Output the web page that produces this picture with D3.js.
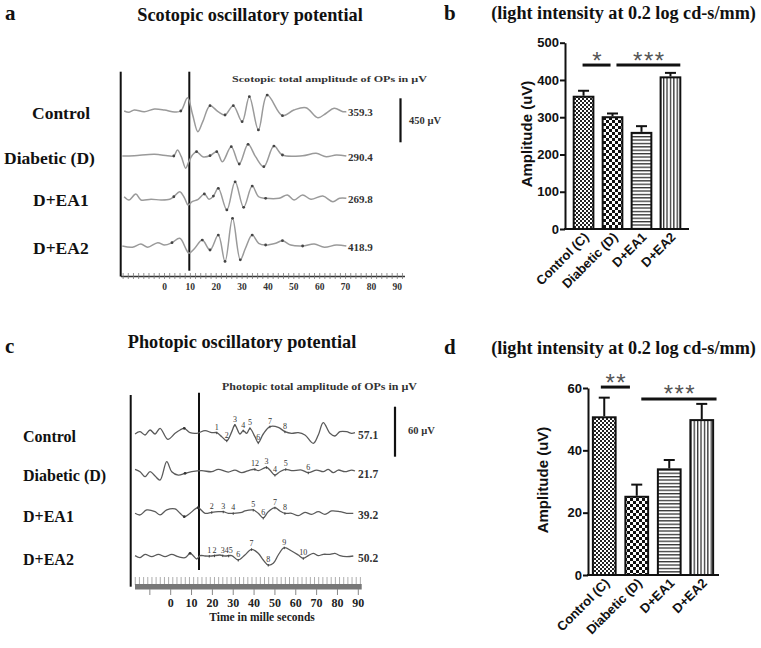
<!DOCTYPE html>
<html><head><meta charset="utf-8">
<script src="https://cdn.jsdelivr.net/npm/d3@7"></script>
<style>body{margin:0;background:#fff}</style>
</head><body><script>
// ---------------- DATA ----------------
const groups = ["Control", "Diabetic (D)", "D+EA1", "D+EA2"];
const scoTotals = ["359.3", "290.4", "269.8", "418.9"];
const phoTotals = ["57.1", "21.7", "39.2", "50.2"];
const timeTicks = [0, 10, 20, 30, 40, 50, 60, 70, 80, 90];

// scotopic OP traces: [time ms, amplitude µV]
const scoControlWave = [[-15.6,0],[-13.7,-13],[-11.7,10],[-7.8,-7],[-3.9,20],[0,10],[3.9,-10],[6.3,0],[8.9,136],[10.9,-41],[12.9,-211],[14.8,-109],[17.6,54],[20.7,-7],[23.4,-41],[26.6,54],[30.0,-109],[32.8,146],[36.3,-194],[39.7,163],[45.6,-48],[50,10],[54.7,34],[59.3,-68],[62.5,-23],[65.6,27],[69,-7],[70.3,-7]];
const scoDiabeticWave = [[-16.3,0],[-11.7,3],[-3.9,17],[1.2,3],[3.6,0],[5.0,61],[6.5,-7],[8.2,-125],[9.4,-58],[10.8,10],[12.4,44],[14.8,-7],[17.6,3],[20.2,44],[22.4,-58],[25.8,95],[28.9,-82],[32.3,119],[35.2,-7],[38.4,-109],[42.3,102],[45.6,10],[53.4,3],[58.6,27],[62.5,-7],[66.4,10],[70.3,0]];
const scoEA1Wave = [[-15.6,16],[-13.7,-17],[-11.1,44],[-9.1,-17],[-5.2,-10],[-1.3,-17],[2.0,-10],[3.6,16],[5.9,67],[7.8,0],[9.1,-68],[10.7,-35],[13.0,-10],[15.4,44],[17.2,-10],[18.9,23],[20.8,102],[24.1,-119],[27.3,169],[30.6,-92],[33.9,125],[36.4,16],[39.1,0],[44.3,0],[47.5,34],[50.1,-17],[53.4,34],[56.6,-10],[61.2,23],[65.1,-35],[67.7,0],[70.3,0]];
const scoEA2Wave = [[-16.3,0],[-12.4,-13],[-9.1,20],[-6.5,-13],[-2.6,34],[0,10],[2.9,34],[5.9,79],[8.5,-41],[9.4,-74],[11.7,-23],[14.6,61],[17.6,-41],[20.8,112],[23.4,-158],[26.3,283],[29.3,-141],[31.3,-23],[33.9,112],[36.4,28],[39.1,10],[43.0,28],[45.6,54],[48.8,10],[53.4,0],[57.9,20],[61.8,-13],[66.4,10],[70.3,0]];
const scoControlMarks = [6.3,17.6,23.4,26.6,30.0,32.8,36.3,39.7,45.6];
const scoDiabeticMarks = [3.6,12.4,17.6,20.2,25.8,28.9,32.3,38.4,42.3,45.6];
const scoEA1Marks = [3.6,15.4,18.9,20.8,24.1,27.3,30.6,33.9,39.1];
const scoEA2Marks = [2.9,14.6,17.6,20.8,23.4,26.3,29.3,33.9,39.1,45.6,53.4];

// photopic OP traces: [time ms, amplitude µV]
const phoControlWave = [[-17.1,-1.2],[-14.7,1.6],[-12.3,-2.4],[-9.9,3.6],[-7.5,-1.2],[-5.1,5.6],[-1.4,-7.6],[2.1,-0.4],[4.5,3.6],[6.5,5.6],[9.3,0.4],[12.5,-0.4],[16.5,2.8],[19.7,0.4],[22.1,0.4],[24.5,-4.4],[26.9,-9.2],[29.3,1.6],[30.8,9.6],[33.2,-1.2],[34.8,2.8],[36.5,-0.4],[38.0,5.6],[40.4,-4.4],[42.0,-11.6],[44.4,-1.2],[47.6,7.6],[51.6,6.8],[54.8,1.6],[58.0,-0.4],[61.2,0.4],[64.4,-2.4],[68.4,-12.4],[70.8,-2.4],[73.2,12.4],[76.4,-0.4],[78.8,-3.6],[81.2,1.6],[84.4,1.6],[86.8,-0.4],[88.4,0.4]];
const phoDiabeticWave = [[-17.1,2.9],[-14.7,0],[-12.3,-6],[-9.9,0],[-7.5,-5.2],[-5.1,-10],[-1.9,12],[0.5,0],[3.6,-4],[6.9,-1.9],[10.1,0],[14.9,1.2],[19.7,0],[22.8,2.9],[27.6,-0.4],[30.8,2],[34.1,-1.2],[38.0,2],[40.4,2.9],[42.0,1.2],[46.0,5.3],[47.6,2],[50.0,-4],[52.4,0],[55.2,2.9],[58.0,1.2],[62.8,2],[66.0,-1.2],[70.0,2],[73.2,0],[75.6,2.9],[78.0,-1.2],[80.4,2],[83.6,0],[86.8,2],[88.4,0.8]];
const phoEA1Wave = [[-17.1,0],[-14.7,-2],[-11.5,4],[-7.5,1.9],[-5.1,-2],[-1.9,4],[2.1,5.2],[4.5,0],[6.5,-4],[9.3,0],[11.7,5.2],[13.2,6.7],[16.5,0],[19.7,1.2],[22.8,1.9],[25.2,1.9],[27.6,0],[30.0,0],[34.1,1.2],[35.6,2.8],[39.6,4],[42.0,0],[44.4,-5.6],[46.8,1.9],[50.0,6.7],[52.4,2.8],[54.8,0],[58.0,0],[61.2,-2.9],[64.4,1.2],[67.6,-1.2],[70.8,1.9],[74.0,-1.2],[77.2,2.8],[81.2,1.9],[84.4,0],[87.6,0]];
const phoEA2Wave = [[-17.1,0.4],[-14.7,-2],[-12.3,2],[-9.1,-0.8],[-5.9,2],[-2.7,-0.8],[0.5,2],[3.6,-0.8],[6.9,-2],[9.3,3.2],[10.8,0.4],[12.5,-3.6],[14.1,0.4],[16.5,0],[19.7,0],[23.6,1.2],[26.0,0],[29.3,0.4],[32.4,-4.8],[35.6,1.2],[38.8,8],[42.0,3.2],[44.4,-4.8],[46.8,-10.8],[49.2,-8.8],[51.6,1.2],[54.5,10],[58.0,6],[61.2,1.2],[63.6,-2.8],[66.0,0.4],[68.4,3.2],[70.8,0.4],[73.2,2],[76.4,2],[78.8,3.2],[81.2,0.4],[84.4,-0.8],[87.6,0]];
const phoControlLabels = [[22.1,"1"],[26.9,"2"],[30.8,"3"],[34.8,"4"],[38.0,"5"],[42.0,"6"],[47.6,"7"],[54.8,"8"]];
const phoDiabeticLabels = [[40.4,"12"],[46.0,"3"],[50.0,"4"],[55.2,"5"],[66.0,"6"]];
const phoEA1Labels = [[19.7,"2"],[25.2,"3"],[30.0,"4"],[39.6,"5"],[44.4,"6"],[50.0,"7"],[54.8,"8"]];
const phoEA2Labels = [[18.5,"1"],[21.0,"2"],[25.0,"3"],[27.8,"45"],[32.4,"6"],[38.8,"7"],[46.8,"8"],[54.5,"9"],[63.6,"10"]];
const phoControlDots = [6.5];
const phoDiabeticDots = [6.9];
const phoEA1Dots = [6.5, 13.2];
const phoEA2Dots = [9.3];

// bar charts
const barCategories = ["Control (C)", "Diabetic (D)", "D+EA1", "D+EA2"];
const scoMean = [355, 300, 258, 407];
const scoSEM = [16, 10, 18, 12];
const phoMean = [50.6, 25.1, 33.9, 49.7];
const phoSEM = [6.3, 3.9, 3.0, 5.2];
const scoTicks = [0, 100, 200, 300, 400, 500];
const phoTicks = [0, 20, 40, 60];
const scoSig = [[0, 1, "*", 440], [1, 3, "***", 440]];
const phoSig = [[0, 1, "**", 60.3], [1, 3, "***", 56.5]];

// ---------------- DRAW ----------------
const W = 761, H = 648;
const SERIF = "'Liberation Serif','Times New Roman',serif";
const SANS = "'Liberation Sans',Arial,sans-serif";
const svg = d3.select("body").append("svg").attr("width", W).attr("height", H);

function txt(x, y, s, size, opts = {}) {
  return svg.append("text").attr("x", x).attr("y", y).text(s)
    .attr("font-family", opts.family || SERIF).attr("font-weight", opts.weight || "bold")
    .attr("font-size", size).attr("fill", opts.fill || "#111")
    .attr("text-anchor", opts.anchor || "start");
}
function ampAt(wave, t) {
  for (let i = 0; i < wave.length - 1; i++) {
    const [t0, a0] = wave[i], [t1, a1] = wave[i + 1];
    if (t >= t0 && t <= t1) return a0 + (a1 - a0) * (t - t0) / (t1 - t0);
  }
  return 0;
}

// panel letters & titles
txt(5, 20, "a", 21);
txt(444, 20, "b", 21);
txt(5, 353, "c", 21);
txt(444, 354, "d", 21);
txt(250, 21, "Scotopic oscillatory potential", 18.3, {anchor: "middle"});
txt(242, 348, "Photopic oscillatory potential", 18.3, {anchor: "middle"});
txt(623.5, 19, "(light intensity at 0.2 log cd-s/mm)", 18.2, {anchor: "middle"});
txt(623.5, 354, "(light intensity at 0.2 log cd-s/mm)", 18.2, {anchor: "middle"});

// ---------- Panel a: scotopic traces ----------
const xSco = d3.scaleLinear().domain([0, 90]).range([164.5, 397.3]);
const aSco = d3.scaleLinear().domain([0, 450]).range([0, 44]);
const scoBase = [111, 156, 198.3, 246];
const scoWaves = [scoControlWave, scoDiabeticWave, scoEA1Wave, scoEA2Wave];
const scoMarks = [scoControlMarks, scoDiabeticMarks, scoEA1Marks, scoEA2Marks];
const curve = d3.curveCatmullRom.alpha(0.5);

svg.append("line").attr("x1", 120.7).attr("x2", 120.7).attr("y1", 71.7).attr("y2", 276.5).attr("stroke", "#111").attr("stroke-width", 2);
svg.append("line").attr("x1", 189.3).attr("x2", 189.3).attr("y1", 71.7).attr("y2", 270.7).attr("stroke", "#111").attr("stroke-width", 2);

scoWaves.forEach((w, i) => {
  const b = scoBase[i];
  const line = d3.line().x(d => xSco(d[0])).y(d => b - aSco(d[1])).curve(curve);
  svg.append("path").attr("d", line(w)).attr("fill", "none").attr("stroke", "#9a9a9a").attr("stroke-width", 1.5);
  scoMarks[i].forEach(t => {
    svg.append("circle").attr("cx", xSco(t)).attr("cy", b - aSco(ampAt(w, t))).attr("r", 1.4).attr("fill", "#444");
  });
});
const scoLabelX = [32, 4, 33, 33];
groups.forEach((g, i) => {
  txt(scoLabelX[i], scoBase[i] + 8, g, 17.5);
  txt(348, scoBase[i] + 5, scoTotals[i], 11, {fill: "#333"});
});
txt(232, 82, "Scotopic total amplitude of OPs in µV", 8.5, {fill: "#333"}).attr("textLength", 195).attr("lengthAdjust", "spacingAndGlyphs");
svg.append("line").attr("x1", 400.5).attr("x2", 400.5).attr("y1", 98.3).attr("y2", 98.3 + aSco(450)).attr("stroke", "#111").attr("stroke-width", 2.2);
txt(409, 124, "450 µV", 10.5, {fill: "#333"});

// scotopic time axis
svg.append("line").attr("x1", 121).attr("x2", 405).attr("y1", 276.5).attr("y2", 276.5).attr("stroke", "#333").attr("stroke-width", 1.3);
d3.range(-16, 93, 2).forEach(t => {
  svg.append("line").attr("x1", xSco(t)).attr("x2", xSco(t)).attr("y1", 273).attr("y2", 279).attr("stroke", "#777").attr("stroke-width", 0.8);
});
timeTicks.forEach(t => txt(xSco(t), 290, String(t), 9.5, {anchor: "middle", fill: "#333"}));

// ---------- Panel c: photopic traces ----------
const xPho = d3.scaleLinear().domain([0, 90]).range([170.7, 358.3]);
const aPho = d3.scaleLinear().domain([0, 60]).range([0, 50]);
const phoBase = [433, 471.7, 513.3, 556];
const phoWaves = [phoControlWave, phoDiabeticWave, phoEA1Wave, phoEA2Wave];
const phoLabels = [phoControlLabels, phoDiabeticLabels, phoEA1Labels, phoEA2Labels];
const phoDots = [phoControlDots, phoDiabeticDots, phoEA1Dots, phoEA2Dots];

svg.append("line").attr("x1", 130.7).attr("x2", 130.7).attr("y1", 395).attr("y2", 586.7).attr("stroke", "#111").attr("stroke-width", 2);
svg.append("line").attr("x1", 199).attr("x2", 199).attr("y1", 392.7).attr("y2", 570).attr("stroke", "#111").attr("stroke-width", 2);

phoWaves.forEach((w, i) => {
  const b = phoBase[i];
  const line = d3.line().x(d => xPho(d[0])).y(d => b - aPho(d[1])).curve(curve);
  svg.append("path").attr("d", line(w)).attr("fill", "none").attr("stroke", "#5a5a5a").attr("stroke-width", 1.3);
  phoLabels[i].forEach(([t, s]) => {
    const y = b - aPho(ampAt(w, t));
    svg.append("line").attr("x1", xPho(t)).attr("x2", xPho(t)).attr("y1", y - 1).attr("y2", y + 1.5).attr("stroke", "#444");
    txt(xPho(t), y - 3, s, 8, {anchor: "middle", weight: "normal", fill: "#333"});
  });
  phoDots[i].forEach(t => {
    svg.append("circle").attr("cx", xPho(t)).attr("cy", b - aPho(ampAt(w, t))).attr("r", 1.4).attr("fill", "#333");
  });
});
groups.forEach((g, i) => {
  txt(23, phoBase[i] + 9, g, 16);
  txt(358, phoBase[i] + 6, phoTotals[i], 11.5, {fill: "#333"});
});
txt(222, 390, "Photopic total amplitude of OPs in µV", 9.5, {fill: "#333"}).attr("textLength", 195).attr("lengthAdjust", "spacingAndGlyphs");
svg.append("line").attr("x1", 395).attr("x2", 395).attr("y1", 406.7).attr("y2", 406.7 + aPho(60)).attr("stroke", "#111").attr("stroke-width", 2.2);
txt(408, 434, "60 µV", 10.5, {fill: "#333"});

// photopic time axis
d3.range(-17, 92, 2).forEach(t => {
  svg.append("line").attr("x1", xPho(t)).attr("x2", xPho(t)).attr("y1", 577).attr("y2", 585).attr("stroke", "#999").attr("stroke-width", 0.8);
});
svg.append("rect").attr("x", 135).attr("y", 584).attr("width", 226.7).attr("height", 5.5).attr("fill", "#777");
d3.range(-10, 91, 10).forEach(t => {
  svg.append("line").attr("x1", xPho(t)).attr("x2", xPho(t)).attr("y1", 589).attr("y2", 595).attr("stroke", "#888").attr("stroke-width", 1);
});
timeTicks.forEach(t => txt(xPho(t), 607, String(t), 12, {anchor: "middle", fill: "#222"}));
txt(262, 621, "Time in mille seconds", 11.5, {anchor: "middle", fill: "#222"});

// ---------- patterns ----------
const defs = svg.append("defs");
let p = defs.append("pattern").attr("id", "pFine").attr("width", 4).attr("height", 4).attr("patternUnits", "userSpaceOnUse");
p.append("rect").attr("width", 4).attr("height", 4).attr("fill", "#fff");
p.append("rect").attr("width", 2).attr("height", 2).attr("fill", "#222");
p.append("rect").attr("x", 2).attr("y", 2).attr("width", 2).attr("height", 2).attr("fill", "#222");
p = defs.append("pattern").attr("id", "pCoarse").attr("width", 6).attr("height", 6).attr("patternUnits", "userSpaceOnUse");
p.append("rect").attr("width", 6).attr("height", 6).attr("fill", "#fff");
p.append("rect").attr("width", 3).attr("height", 3).attr("fill", "#111");
p.append("rect").attr("x", 3).attr("y", 3).attr("width", 3).attr("height", 3).attr("fill", "#111");
p = defs.append("pattern").attr("id", "pH").attr("width", 4).attr("height", 3.4).attr("patternUnits", "userSpaceOnUse");
p.append("rect").attr("width", 4).attr("height", 3.4).attr("fill", "#fff");
p.append("rect").attr("width", 4).attr("height", 1.3).attr("fill", "#333");
p = defs.append("pattern").attr("id", "pV").attr("width", 3.4).attr("height", 4).attr("patternUnits", "userSpaceOnUse");
p.append("rect").attr("width", 3.4).attr("height", 4).attr("fill", "#fff");
p.append("rect").attr("width", 1.3).attr("height", 4).attr("fill", "#333");
const fills = ["url(#pFine)", "url(#pCoarse)", "url(#pH)", "url(#pV)"];

// ---------- bar panels ----------
function barPanel(cfg) {
  const y = d3.scaleLinear().domain(cfg.domain).range([cfg.y0, cfg.y1]);
  const x = d3.scaleBand().domain(barCategories).range([cfg.xl, cfg.xr]).paddingInner(cfg.pi).paddingOuter(cfg.po);
  const bw = x.bandwidth();
  const g = svg.append("g");
  barCategories.forEach((c, i) => {
    g.append("rect").attr("x", x(c)).attr("y", y(cfg.mean[i])).attr("width", bw).attr("height", y(0) - y(cfg.mean[i]))
      .attr("fill", fills[i]).attr("stroke", "#111").attr("stroke-width", 2);
    const cx = x(c) + bw / 2, ye = y(cfg.mean[i] + cfg.sem[i]);
    g.append("line").attr("x1", cx).attr("x2", cx).attr("y1", y(cfg.mean[i]) - 1).attr("y2", ye).attr("stroke", "#111").attr("stroke-width", 2);
    g.append("line").attr("x1", cx - 5.5).attr("x2", cx + 5.5).attr("y1", ye).attr("y2", ye).attr("stroke", "#111").attr("stroke-width", 2);
    g.append("text").attr("transform", `translate(${cx + 6},${cfg.y0 + 9}) rotate(-45)`).attr("text-anchor", "end")
      .attr("font-family", SANS).attr("font-weight", "bold").attr("font-size", 13).attr("fill", "#111").text(c);
  });
  const ax = g.append("g").attr("transform", `translate(${cfg.xl},0)`).call(d3.axisLeft(y).tickValues(cfg.ticks).tickSize(5).tickSizeOuter(0));
  ax.select(".domain").attr("stroke-width", 2).attr("stroke", "#111");
  ax.selectAll(".tick line").attr("stroke-width", 2).attr("stroke", "#111");
  ax.selectAll(".tick text").attr("font-family", SANS).attr("font-weight", "bold").attr("font-size", 13).attr("fill", "#111").attr("x", -6);
  g.append("line").attr("x1", cfg.xl - 1).attr("x2", cfg.xend).attr("y1", y(0)).attr("y2", y(0)).attr("stroke", "#111").attr("stroke-width", 2);
  g.append("text").attr("transform", `translate(${cfg.labX},${cfg.labY}) rotate(-90)`).attr("text-anchor", "middle")
    .attr("font-family", SANS).attr("font-weight", "bold").attr("font-size", 15).attr("fill", "#111").text("Amplitude (uV)");
  cfg.sig.forEach(([a, b, s, v], k) => {
    const x1 = x(barCategories[a]) + bw * cfg.sigOff[k][0];
    const x2 = x(barCategories[b]) + bw * cfg.sigOff[k][1];
    g.append("line").attr("x1", x1).attr("x2", x2).attr("y1", y(v)).attr("y2", y(v)).attr("stroke", "#111").attr("stroke-width", 3);
    g.append("text").attr("x", (x1 + x2) / 2 + 1).attr("y", y(v) + 3.5).attr("text-anchor", "middle")
      .attr("font-family", SANS).attr("font-size", 24).attr("letter-spacing", 1.5).attr("fill", "#555").text(s);
  });
}
barPanel({domain: [0, 500], y0: 229, y1: 42.7, xl: 565, xr: 689, xend: 689, pi: 0.32, po: 0.3,
  mean: scoMean, sem: scoSEM, ticks: scoTicks, sig: scoSig, sigOff: [[0.45, 0.4], [0.7, 1.0]], labX: 532, labY: 134});
barPanel({domain: [0, 60], y0: 575, y1: 388, xl: 588, xr: 718, xend: 719, pi: 0.3, po: 0.15,
  mean: phoMean, sem: phoSEM, ticks: phoTicks, sig: phoSig, sigOff: [[0.35, 0.2], [0.7, 1.15]], labX: 548, labY: 480});
</script></body></html>
